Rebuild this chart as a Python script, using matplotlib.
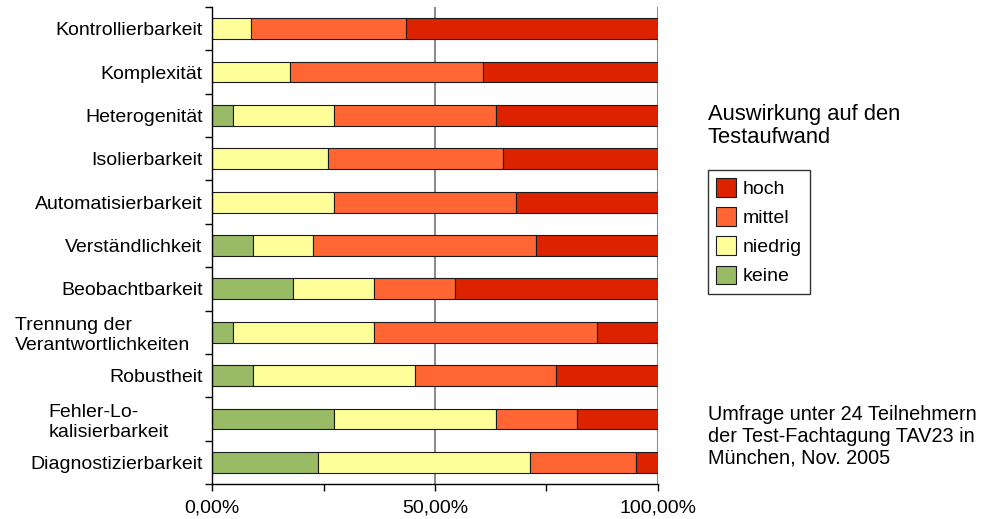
import matplotlib
matplotlib.use("Agg")
import matplotlib.pyplot as plt
import numpy as np
from matplotlib.transforms import ScaledTranslation

plt.rcParams['font.family'] = ['Liberation Sans', 'DejaVu Sans']

categories = [
    "Kontrollierbarkeit",
    "Komplexität",
    "Heterogenität",
    "Isolierbarkeit",
    "Automatisierbarkeit",
    "Verständlichkeit",
    "Beobachtbarkeit",
    "Trennung der\nVerantwortlichkeiten",
    "Robustheit",
    "Fehler-Lo-\nkalisierbarkeit",
    "Diagnostizierbarkeit",
]

# Number of answers per rating for each property
keine   = [0, 0, 1, 0, 0, 2, 4, 1, 2, 6, 5]
niedrig = [2, 4, 5, 6, 6, 3, 4, 7, 8, 8, 10]
mittel  = [8, 10, 8, 9, 9, 11, 4, 11, 7, 4, 5]
hoch    = [13, 9, 8, 8, 7, 6, 10, 3, 5, 4, 1]

series_names = ["keine", "niedrig", "mittel", "hoch"]
series_colors = ["#99BB66", "#FFFF99", "#FF6633", "#DD2200"]

x_ticks = [0.0, 0.25, 0.5, 0.75, 1.0]
x_tick_labels = ["0,00%", "", "50,00%", "", "100,00%"]

legend_title = "Auswirkung auf den\nTestaufwand"
note = "Umfrage unter 24 Teilnehmern\nder Test-Fachtagung TAV23 in\nMünchen, Nov. 2005"

counts = np.array([keine, niedrig, mittel, hoch], dtype=float)
shares = counts / counts.sum(axis=0)

fig = plt.figure(figsize=(9.85, 5.19), dpi=100)
ax = fig.add_axes([0.2155, 0.0674, 0.4522, 0.9191])

y = np.arange(len(categories))
left = np.zeros(len(categories))
handles = []
for name, color, vals in zip(series_names, series_colors, shares):
    h = ax.barh(y, vals, left=left, height=0.48, color=color,
                edgecolor="#1a1a1a", linewidth=0.8, label=name, zorder=2)
    handles.append(h)
    left = left + vals

ax.set_xlim(0, 1)
ax.set_ylim(len(categories) - 0.5, -0.5)

# vertical guide lines
for gx in (0.5, 1.0):
    ax.axvline(gx, color="#8c8c8c", linewidth=1.5, zorder=1)

for side in ("top", "right"):
    ax.spines[side].set_visible(False)
for side in ("left", "bottom"):
    ax.spines[side].set_color("black")
    ax.spines[side].set_linewidth(1.0)

ax.set_xticks(x_ticks)
ax.set_xticklabels(x_tick_labels, fontsize=14)
ax.tick_params(axis="x", direction="out", length=5, width=1, color="black", pad=6)

ax.set_yticks(y)
ax.set_yticklabels(categories, fontsize=14, multialignment="left")
ax.set_yticks(np.arange(len(categories) + 1) - 0.5, minor=True)
ax.tick_params(axis="y", which="major", length=0, pad=7)
ax.tick_params(axis="y", which="minor", direction="out", length=5, width=1, color="black")

# wrapped labels sit a little further left
offsets = {"Trennung der\nVerantwortlichkeiten": -12, "Fehler-Lo-\nkalisierbarkeit": -34}
for lbl in ax.get_yticklabels():
    dx = offsets.get(lbl.get_text())
    if dx is not None:
        lbl.set_transform(lbl.get_transform() + ScaledTranslation(dx / 100, 0, fig.dpi_scale_trans))

fig.text(708 / 985, 1 - 104 / 519, legend_title, fontsize=15.8, ha="left", va="top",
         linespacing=1.15)

leg = fig.legend(handles[::-1], series_names[::-1], loc="upper left",
                 bbox_to_anchor=(708 / 985, 1 - 170 / 519), fontsize=14,
                 frameon=True, fancybox=False, shadow=False, borderaxespad=0,
                 handlelength=1.03, handleheight=1.08, handletextpad=0.32,
                 labelspacing=0.48, borderpad=0.42)
leg.get_frame().set_edgecolor("black")
leg.get_frame().set_linewidth(1.0)

fig.text(708 / 985, 1 - 405 / 519, note, fontsize=14.3, ha="left", va="top",
         linespacing=1.17)

fig.savefig("out.png", dpi=100)
